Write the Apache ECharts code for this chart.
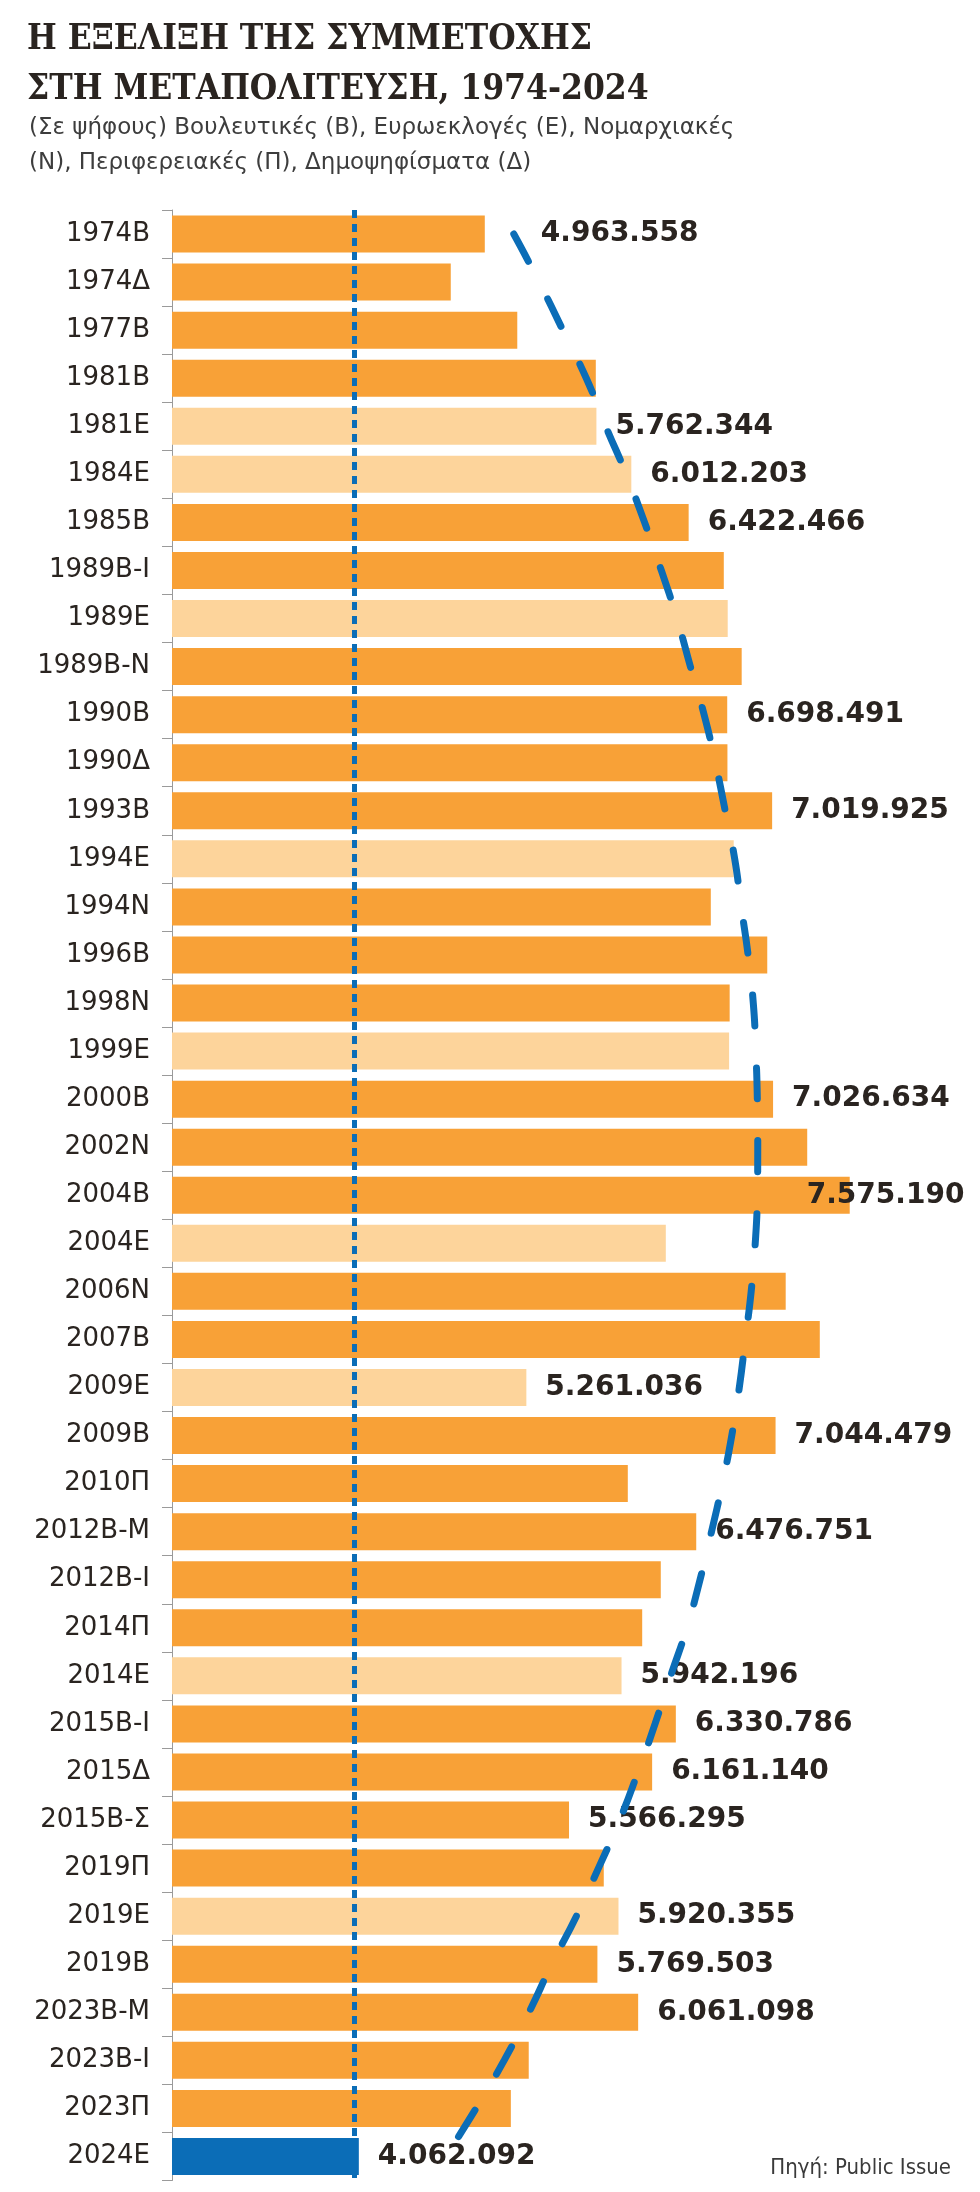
<!DOCTYPE html>
<html>
<head>
<meta charset="utf-8">
<script src="https://cdn.jsdelivr.net/npm/echarts@6/dist/echarts.min.js"></script>
<style>
  html, body { margin: 0; padding: 0; background: #fff; }
  #chart { width: 980px; height: 2192px; }
</style>
</head>
<body>
<div id="chart"></div>
<script>
// categories: Β = Βουλευτικές, Ε = Ευρωεκλογές, Ν = Νομαρχιακές, Π = Περιφερειακές, Δ = Δημοψηφίσματα
const categories = [
  "1974Β", "1974Δ", "1977Β", "1981Β", "1981Ε", "1984Ε", "1985Β", "1989Β-Ι", "1989Ε", "1989Β-Ν",
  "1990Β", "1990Δ", "1993Β", "1994Ε", "1994Ν", "1996Β", "1998Ν", "1999Ε", "2000Β", "2002Ν",
  "2004Β", "2004Ε", "2006Ν", "2007Β", "2009Ε", "2009Β", "2010Π", "2012Β-Μ", "2012Β-Ι", "2014Π",
  "2014Ε", "2015Β-Ι", "2015Δ", "2015Β-Σ", "2019Π", "2019Ε", "2019Β", "2023Β-Μ", "2023Β-Ι", "2023Π",
  "2024Ε"
];
// votes cast (unlabelled bars)
const votes = [
  4963558, 4720000, 5196000, 5758000, 5762344, 6012203, 6422466, 6674000, 6702000, 6802000,
  6698491, 6700000, 7019925, 6745000, 6581000, 6985000, 6716000, 6712000, 7026634, 7271000,
  7575190, 6259000, 7117000, 7361000, 5261036, 7044479, 5987000, 6476751, 6223000, 6090000,
  5942196, 6330786, 6161140, 5566295, 5815000, 5920355, 5769503, 6061098, 5278000, 5150000,
  4062092
];
// hand drawn trend curve (dashed blue)
const trend = [
  5171000, 5353000, 5522000, 5690000, 5829000, 5976000, 6107000, 6227000, 6339000, 6435000,
  6533000, 6614000, 6684000, 6752000, 6799000, 6848000, 6885000, 6903000, 6914000, 6917000,
  6914000, 6899000, 6870000, 6828000, 6785000, 6731000, 6664000, 6586000, 6504000, 6410000,
  6294000, 6182000, 6060000, 5929000, 5777000, 5619000, 5443000, 5280000, 5102000, 4901000,
  4684000
];
// bars that carry a value label
const labelled = [
  "1974Β", "1981Ε", "1984Ε", "1985Β", "1990Β", "1993Β", "2000Β", "2004Β", "2009Ε", "2009Β",
  "2012Β-Μ", "2014Ε", "2015Β-Ι", "2015Δ", "2015Β-Σ", "2019Ε", "2019Β", "2023Β-Μ", "2024Ε"
];
// level of the dotted reference line (≈ 2024 turnout)
const dottedLevel = 4026000;

const ORANGE = "#F8A137";
const LIGHT = "#FDD49B";
const BLUE = "#0B6DB7";
const INK = "#2a2420";

function fmt(v) {
  return String(v).replace(/\B(?=(\d{3})+(?!\d))/g, ".");
}

const last = categories.length - 1;
const barData = votes.map(function (v, i) {
  const cat = categories[i];
  let color = ORANGE;
  if (i === last) color = BLUE;
  else if (cat.indexOf("Ε") > -1) color = LIGHT;
  const item = { value: v, itemStyle: { color: color } };
  if (labelled.indexOf(cat) > -1) {
    item.label = { show: true };
    // a couple of labels are nudged around the curve in the original
    if (cat === "1974Β") item.label.offset = [37, 0];
    if (cat === "2004Β") item.label.offset = [-62, 0];
  }
  return item;
});

const chart = echarts.init(document.getElementById("chart"));
chart.setOption({
  animation: false,
  backgroundColor: "#fff",
  title: [
    {
      text: "Η ΕΞΕΛΙΞΗ ΤΗΣ ΣΥΜΜΕΤΟΧΗΣ\nΣΤΗ ΜΕΤΑΠΟΛΙΤΕΥΣΗ, 1974-2024",
      left: 22,
      top: 10,
      textStyle: {
        fontFamily: "DejaVu Serif Condensed, DejaVu Serif",
        fontSize: 35,
        fontWeight: "bold",
        lineHeight: 50,
        color: INK
      }
    },
    {
      text: "(Σε ψήφους) Βουλευτικές (Β), Ευρωεκλογές (Ε), Νομαρχιακές\n(Ν), Περιφερειακές (Π), Δημοψηφίσματα (Δ)",
      left: 24,
      top: 106,
      textStyle: {
        fontFamily: "DejaVu Sans",
        fontSize: 23,
        fontWeight: "normal",
        lineHeight: 35,
        color: "#3d3d3d"
      }
    },
    {
      text: "Πηγή: Public Issue",
      right: 24,
      top: 2152,
      textStyle: {
        fontFamily: "DejaVu Sans Condensed, DejaVu Sans",
        fontSize: 22,
        fontWeight: "normal",
        color: "#3a3a3a"
      }
    }
  ],
  grid: {
    left: 172,
    top: 210,
    width: 779,
    bottom: 11.5
  },
  xAxis: {
    type: "value",
    min: 2725000,
    max: 8300000,
    show: false
  },
  yAxis: {
    type: "category",
    inverse: true,
    data: categories,
    axisLine: { show: true, lineStyle: { color: "#9a9a9a", width: 1 } },
    axisTick: { show: true, length: 10, lineStyle: { color: "#9a9a9a" } },
    axisLabel: {
      margin: 22,
      fontFamily: "DejaVu Sans",
      fontSize: 26,
      color: INK
    }
  },
  series: [
    {
      type: "bar",
      data: barData,
      barWidth: 37,
      label: {
        show: false,
        position: "right",
        distance: 19,
        fontFamily: "DejaVu Sans",
        fontWeight: "bold",
        fontSize: 28,
        color: INK,
        formatter: function (p) { return fmt(p.value); }
      },
      markLine: {
        silent: true,
        symbol: ["none", "none"],
        label: { show: false },
        lineStyle: { color: BLUE, width: 5, type: [8, 6] },
        data: [{ xAxis: dottedLevel }]
      }
    },
    {
      type: "line",
      data: trend,
      z: 5,
      smooth: true,
      showSymbol: false,
      silent: true,
      lineStyle: { color: BLUE, width: 7, type: [31, 42], cap: "round" }
    }
  ]
});
</script>
</body>
</html>
